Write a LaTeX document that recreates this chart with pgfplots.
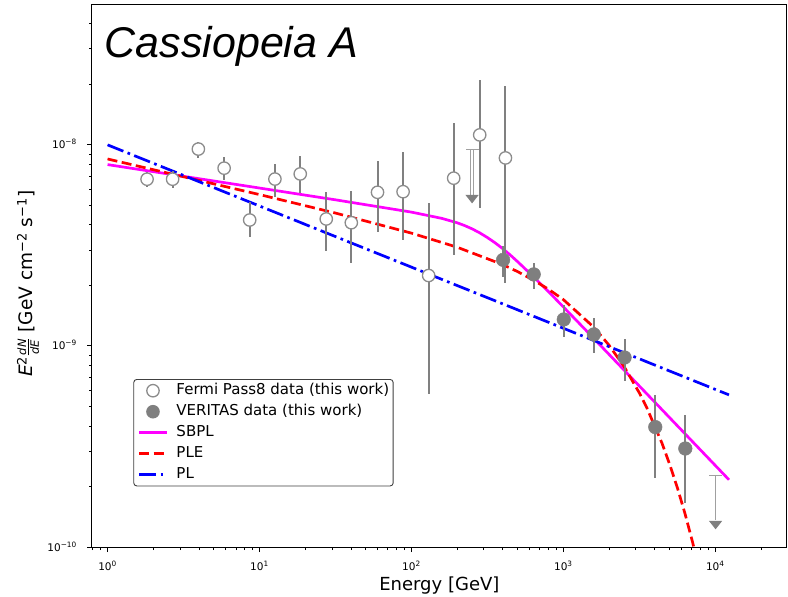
\documentclass[border=0pt]{standalone}
\usepackage{fontspec}
\setmainfont{DejaVu Sans}
\newfontfamily\titlefont{Liberation Sans}
\usepackage{pgfplots}
\usepackage{pgfplotstable}
\pgfplotsset{compat=1.18}

\definecolor{errgray}{HTML}{808080}
\definecolor{mkgray}{HTML}{8C8C8C}
\definecolor{vgray}{HTML}{7F7F7F}
\definecolor{ulgray}{HTML}{A0A0A0}
\definecolor{sbplcol}{HTML}{FF00FF}
\definecolor{plecol}{HTML}{FF0000}
\definecolor{plcol}{HTML}{0000FF}

% downward pointing filled triangle used as upper-limit arrow head
\pgfdeclareplotmark{downtri}{%
  \pgfpathmoveto{\pgfqpoint{-6.6bp}{4.2bp}}%
  \pgfpathlineto{\pgfqpoint{6.6bp}{4.2bp}}%
  \pgfpathlineto{\pgfqpoint{0bp}{-4.2bp}}%
  \pgfpathclose
  \pgfusepathqfill}

% Fermi-LAT Pass8 flux points: energy [GeV], E^2 dN/dE, upper and lower errors
\pgfplotstableread{
E      F         ep        em
1.82   6.75e-9   0.59e-9   0.59e-9
2.68   6.75e-9   0.63e-9   0.66e-9
3.96   9.53e-9   0.85e-9   0.90e-9
5.85   7.66e-9   1.00e-9   0.94e-9
8.62   4.23e-9   0.99e-9   0.76e-9
12.63  6.76e-9   1.31e-9   1.23e-9
18.54  7.17e-9   1.64e-9   1.42e-9
27.5   4.28e-9   1.53e-9   1.30e-9
40.2   4.10e-9   1.82e-9   1.51e-9
59.8   5.81e-9   2.54e-9   2.11e-9
88.1   5.85e-9   3.35e-9   2.49e-9
129.8  2.24e-9   2.92e-9   1.66e-9
189.7  6.83e-9   6.00e-9   4.01e-9
281.4  1.121e-8  0.97e-8   6.37e-9
415.6  8.61e-9   1.10e-8   6.55e-9
}\fermidata

% VERITAS flux points
\pgfplotstableread{
E      F         ep        em
401.2  2.68e-9   0.46e-9   0.47e-9
638    2.27e-9   0.32e-9   0.34e-9
1006   1.355e-9  0.251e-9  0.253e-9
1586   1.141e-9  0.230e-9  0.223e-9
2527   8.76e-10  2.01e-10  2.06e-10
4025   3.95e-10  1.74e-10  1.74e-10
6345   3.09e-10  1.43e-10  1.44e-10
}\veritasdata

\begin{document}
\begin{tikzpicture}
\begin{axis}[
  at={(0,0)}, anchor=south west,
  scale only axis, width=694.7bp, height=542.7bp,
  xmode=log, ymode=log,
  xmin=0.79, xmax=29500, ymin=1e-10, ymax=5e-8,
  axis line style={line width=1bp, black},
  tick align=outside, xtick pos=left, ytick pos=left,
  major tick length=5bp, minor tick length=3bp,
  tick style={black, line width=0.9bp},
  xtick={1,10,100,1000,10000},
  xticklabels={10\textsuperscript{0},10\textsuperscript{1},10\textsuperscript{2},10\textsuperscript{3},10\textsuperscript{4}},
  minor xtick={0.8,0.9,2,3,4,5,6,7,8,9,20,30,40,50,60,70,80,90,200,300,400,500,600,700,800,900,2000,3000,4000,5000,6000,7000,8000,9000,20000},
  ytick={1e-10,1e-9,1e-8},
  yticklabels={10\textsuperscript{−10},10\textsuperscript{−9},10\textsuperscript{−8}},
  minor ytick={2e-10,3e-10,4e-10,5e-10,6e-10,7e-10,8e-10,9e-10,2e-9,3e-9,4e-9,5e-9,6e-9,7e-9,8e-9,9e-9,2e-8,3e-8,4e-8},
  ticklabel style={font=\fontsize{10.5bp}{12bp}\selectfont, inner sep=0pt},
  xticklabel style={anchor=base, yshift=-18bp},
  yticklabel style={anchor=base east, xshift=-10bp, yshift=-4bp},
  xlabel={Energy [GeV]},
  xlabel style={font=\fontsize{18bp}{20bp}\selectfont, at={(axis description cs:0.5,0)}, anchor=base, yshift=-43bp, inner sep=0pt},
  ylabel={{\itshape E}\textsuperscript{2}$\frac{\mbox{\fontsize{11.5bp}{12bp}\selectfont\itshape dN}}{\mbox{\fontsize{11.5bp}{12bp}\selectfont\itshape dE}}$ [GeV cm\textsuperscript{−2} s\textsuperscript{−1}]},
  ylabel style={font=\fontsize{18.5bp}{20bp}\selectfont, at={(axis description cs:-0.0922,0.485)}, anchor=center, inner sep=0pt},
  legend cell align=left,
  legend style={at={(axis description cs:0.0595,0.3096)}, anchor=north west,
    draw=black!75, line width=0.9bp, rounded corners=3bp, fill=white,
    inner xsep=4bp, inner ysep=4bp, row sep=6.5bp, column sep=8.3bp,
    font=\fontsize{15bp}{18bp}\selectfont,
    nodes={inner sep=0pt, text height=11bp, text depth=3.5bp}},
  legend image code/.code={\draw[#1] (0bp,0bp) -- (27.7bp,0bp);},
]

% legend entries
\addlegendimage{legend image code/.code={\path[draw=none, fill=none] (0bp,0bp) -- (27.7bp,0bp);\path[fill=white, draw=mkgray, line width=1.3bp, sharp corners] (13.85bp,0bp) circle[radius=6.2bp];}}
\addlegendentry{Fermi Pass8 data (this work)}
\addlegendimage{legend image code/.code={\path[draw=none, fill=none] (0bp,0bp) -- (27.7bp,0bp);\path[fill=vgray, draw=none] (13.85bp,0bp) circle[radius=6.8bp];}}
\addlegendentry{VERITAS data (this work)}
\addlegendimage{sbplcol, line width=2.7bp, sharp corners}
\addlegendentry{SBPL}
\addlegendimage{plecol, line width=2.7bp, sharp corners, dash pattern=on 10bp off 4.5bp}
\addlegendentry{PLE}
\addlegendimage{plcol, line width=2.7bp, sharp corners, dash pattern=on 17bp off 4.5bp on 2.7bp off 4.5bp}
\addlegendentry{PL}

% smoothly broken power law
\addplot[forget plot, sbplcol, line width=2.7bp] coordinates {
(1,7.98e-9) (10,6.10e-9) (31.62,5.33e-9) (100,4.63e-9) (158.5,4.31e-9)
(199.5,4.10e-9) (223.9,3.97e-9) (251.2,3.82e-9) (281.8,3.65e-9) (316.2,3.46e-9)
(354.8,3.26e-9) (398.1,3.05e-9) (446.7,2.835e-9) (501.2,2.62e-9) (631,2.22e-9)
(794.3,1.87e-9) (1000,1.563e-9) (1413,1.193e-9) (1995,9.09e-10) (3981,5.27e-10)
(12300,2.16e-10)};

% power law with exponential cutoff
\addplot[forget plot, plecol, line width=2.7bp, dash pattern=on 10bp off 4.5bp] coordinates {
(1,8.51e-9) (10,5.66e-9) (31.62,4.58e-9) (100,3.64e-9) (199.5,3.10e-9)
(398.1,2.54e-9) (501.2,2.34e-9) (631,2.13e-9) (794.3,1.92e-9) (1000,1.70e-9)
(1585,1.24e-9) (1995,1.01e-9) (2512,7.89e-10) (3162,5.84e-10) (3548,4.91e-10)
(4467,3.27e-10) (5012,2.57e-10) (5623,1.975e-10) (6310,1.47e-10) (7079,1.06e-10)
(7943,7.35e-11)};

% simple power law
\addplot[forget plot, plcol, line width=2.7bp, dash pattern=on 17bp off 4.5bp on 2.7bp off 4.5bp] coordinates {
(1,1.0e-8) (12300,5.71e-10)};

% Fermi points
\addplot[forget plot, only marks, mark=*, mark size=6.2bp,
  mark options={fill=white, draw=mkgray, line width=1.3bp},
  error bars/.cd, y dir=both, y explicit, error mark=none,
  error bar style={line width=2bp, errgray}]
  table[x=E, y=F, y error plus=ep, y error minus=em] {\fermidata};

% VERITAS points
\addplot[forget plot, only marks, mark=*, mark size=6.8bp,
  mark options={fill=vgray, draw=vgray, line width=0.5bp},
  error bars/.cd, y dir=both, y explicit, error mark=none,
  error bar style={line width=2bp, errgray}]
  table[x=E, y=F, y error plus=ep, y error minus=em] {\veritasdata};

% Fermi upper limit
\addplot[forget plot, ulgray, line width=3.4bp] coordinates {(250.7,9.52e-9) (250.7,5.6e-9)};
\addplot[forget plot, white, line width=1.4bp] coordinates {(250.7,9.4e-9) (250.7,5.6e-9)};
\addplot[forget plot, only marks, mark=-, mark size=6.5bp, mark options={ulgray, line width=1bp}] coordinates {(250.7,9.52e-9)};
\addplot[forget plot, only marks, mark=downtri, vgray] coordinates {(250.7,5.37e-9)};

% VERITAS upper limit
\addplot[forget plot, ulgray, line width=1.5bp] coordinates {(10040,2.27e-10) (10040,1.36e-10)};
\addplot[forget plot, only marks, mark=-, mark size=6.5bp, mark options={ulgray, line width=1bp}] coordinates {(10040,2.27e-10)};
\addplot[forget plot, only marks, mark=downtri, vgray] coordinates {(10040,1.285e-10)};

\node[anchor=base west, inner sep=0pt, font=\titlefont\itshape\fontsize{43bp}{48bp}\selectfont]
  at (rel axis cs:0.018,0.9014) {Cassiopeia A};
\end{axis}
\pgfresetboundingbox
\path[use as bounding box] (-92bp,-50bp) rectangle (696bp,547bp);
\end{tikzpicture}
\end{document}
